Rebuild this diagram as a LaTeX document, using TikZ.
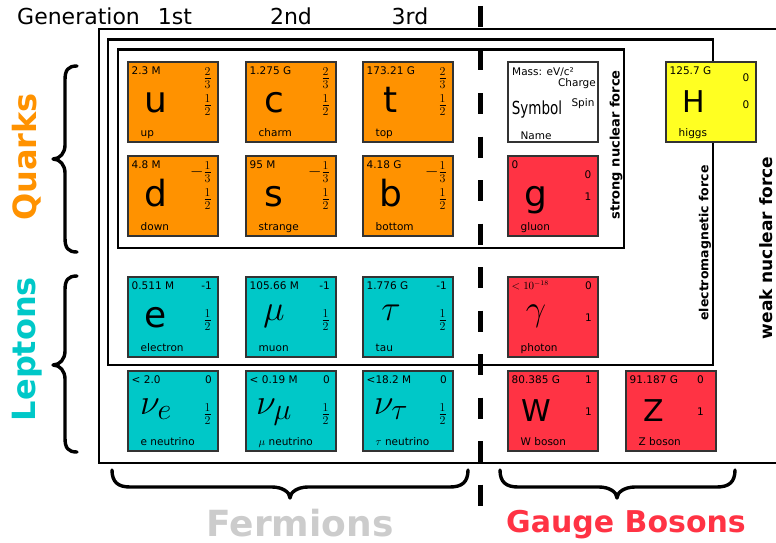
\documentclass[tikz,border=0pt]{standalone}
\usepackage[no-math]{fontspec}
\setmainfont{DejaVu Sans}
\usepackage{graphicx}
\definecolor{quark}{HTML}{FF9200}
\definecolor{lepton}{HTML}{00C8C8}
\definecolor{boson}{HTML}{FF3344}
\definecolor{higgscol}{HTML}{FFFF22}
\definecolor{fermcol}{HTML}{CCCCCC}
\tikzset{
  frame/.style={line width=2.6pt, draw=black},
  cellbox/.style={draw=black!80, line width=1.2pt, minimum width=90pt, minimum height=80pt, anchor=north west, inner sep=0pt, outer sep=0pt},
  smalltext/.style={font=\fontsize{10.5}{12}\selectfont, inner sep=0pt},
  masst/.style={smalltext, anchor=base west},
  namet/.style={smalltext, anchor=base west},
  charget/.style={smalltext, anchor=base east},
  spint/.style={smalltext, anchor=base east},
  symt/.style={inner sep=0pt, anchor=base},
  bracestyle/.style={line width=3.4pt, line cap=round, line join=round},
  rotlabel/.style={rotate=90, inner sep=0pt},
  dashdiv/.style={line width=5pt, dash pattern=on 21pt off 22.5pt},
}
\newcommand\symlc[1]{{\fontsize{36}{40}\selectfont #1}}
\newcommand\symuc[1]{{\fontsize{30}{36}\selectfont #1}}
\newcommand\symgk[1]{\raisebox{7pt}{\scalebox{1.45}{\fontsize{24.88}{28}\selectfont$#1$}}}
% charge fractions (centre about 16 below the cell top)
\newcommand\chq[2]{\raisebox{-7.6pt}{\fontsize{16.5}{18}\selectfont$\frac{#1}{#2}$}}
\newcommand\chqn[2]{\raisebox{-7.6pt}{\fontsize{16.5}{18}\selectfont$-\frac{#1}{#2}$}}
% spin fractions
\newcommand\spq[2]{\raisebox{-3pt}{\fontsize{16.5}{18}\selectfont$\frac{#1}{#2}$}}
\newcommand\particle[9][84]{%
  \node[cellbox, fill=#4] (#2) at (#3) {};
  \node[masst] (#2-mass) at ([shift={(3.5,12.5)}]#2.north west) {#5};
  \node[symt] (#2-sym) at ([shift={(28,50)}]#2.north west) {#6};
  \node[charget] (#2-charge) at ([shift={(#1,12.7)}]#2.north west) {#7};
  \node[spint] (#2-spin) at ([shift={(#1,44.5)}]#2.north west) {#8};
  \node[namet] (#2-name) at ([shift={(12.5,74)}]#2.north west) {#9};
}
\begin{document}
\begin{tikzpicture}[x=1pt,y=-1pt]
\useasboundingbox (0,0) rectangle (776,543);
% force frames
\draw[frame] (800,29) -- (99,29) -- (99,463) -- (800,463);
\draw[frame] (108,39.5) rectangle (713,365);
\draw[frame] (118,49.5) rectangle (624,248);
% header
\node[anchor=base west, inner sep=0pt, font=\fontsize{22}{26}\selectfont] (gen) at (17,25) {Generation};
\node[anchor=base, inner sep=0pt, font=\fontsize{22}{26}\selectfont] (g1) at (175,25) {1st};
\node[anchor=base, inner sep=0pt, font=\fontsize{22}{26}\selectfont] (g2) at (291,25) {2nd};
\node[anchor=base, inner sep=0pt, font=\fontsize{22}{26}\selectfont] (g3) at (410,25) {3rd};
% quarks
\particle{u}{128,62}{quark}{2.3 M}{\symlc{u}}{\chq23}{\spq12}{up}
\particle{c}{246,62}{quark}{1.275 G}{\symlc{c}}{\chq23}{\spq12}{charm}
\particle{t}{363,62}{quark}{173.21 G}{\symlc{t}}{\chq23}{\spq12}{top}
\particle{d}{128,156}{quark}{4.8 M}{\symlc{d}}{\chqn13}{\spq12}{down}
\particle{s}{246,156}{quark}{95 M}{\symlc{s}}{\chqn13}{\spq12}{strange}
\particle{b}{363,156}{quark}{4.18 G}{\symlc{b}}{\chqn13}{\spq12}{bottom}
% leptons
\particle{e}{128,277}{lepton}{0.511 M}{\symlc{e}}{-1}{\spq12}{electron}
\particle{mu}{246,277}{lepton}{105.66 M}{\symgk{\mu}}{-1}{\spq12}{muon}
\particle{tau}{363,277}{lepton}{1.776 G}{\symgk{\tau}}{-1}{\spq12}{tau}
\particle{nue}{128,371}{lepton}{< 2.0}{\symgk{\nu_e}}{0}{\spq12}{e neutrino}
\particle{numu}{246,371}{lepton}{< 0.19 M}{\symgk{\nu_\mu}}{0}{\spq12}{$\mu$ neutrino}
\particle{nutau}{363,371}{lepton}{<18.2 M}{\symgk{\nu_\tau}}{0}{\spq12}{$\tau$ neutrino}
% bosons
\particle{g}{508,156}{boson}{0}{\symlc{g}}{}{}{gluon}
\node[smalltext] (g-q) at ([shift={(80,19)}]g.north west) {0};
\node[smalltext] (g-sp) at ([shift={(80,41)}]g.north west) {1};
\particle{gamma}{508,277}{boson}{$<10^{-18}$}{\symgk{\gamma}}{0}{1}{photon}
\particle{W}{508,371}{boson}{80.385 G}{\symuc{W}}{1}{1}{W boson}
\particle[78]{Z}{626,371}{boson}{91.187 G}{\symuc{Z}}{0}{1}{Z boson}
\particle{H}{666,62}{higgscol}{125.7 G}{\symuc{H}}{}{}{higgs}
\node[smalltext] (H-q) at ([shift={(80,16)}]H.north west) {0};
\node[smalltext] (H-sp) at ([shift={(80,43)}]H.north west) {0};
% key
\node[cellbox, fill=white] (key) at (508,62) {};
\node[masst] (key-mass) at (512,75) {Mass: eV/c²};
\node[smalltext, anchor=base east] (key-charge) at (596,86) {Charge};
\node[anchor=base, inner sep=0pt, font=\fontsize{18}{20}\selectfont] (key-sym) at (537,114) {\scalebox{0.75}[1]{Symbol}};
\node[smalltext, anchor=base] (key-spin) at (583,106) {Spin};
\node[smalltext, anchor=base] (key-name) at (536,139) {Name};
% force labels
\node[rotlabel, font=\bfseries\fontsize{13}{15}\selectfont] (strong) at (616,145) {strong nuclear force};
\node[rotlabel, font=\bfseries\fontsize{12.5}{15}\selectfont] (em) at (705,243) {electromagnetic force};
\node[rotlabel, anchor=base, font=\bfseries\fontsize{17}{20}\selectfont] (weak) at (772,248) {weak nuclear force};
% divider
\draw[dashdiv] (480,6) -- (480,506);
% side labels
\node[rotlabel, anchor=base, font=\bfseries\fontsize{32}{36}\selectfont, text=quark] (quarks) at (36,157) {Quarks};
\node[rotlabel, anchor=base, font=\bfseries\fontsize{32}{36}\selectfont, text=lepton] (leptons) at (35,349) {Leptons};
% braces
\draw[bracestyle] (77,66) .. controls (68,66) and (65,70) .. (65,80) -- (65,145) .. controls (65,153) and (60,159) .. (53,159) .. controls (60,159) and (65,165) .. (65,173) -- (65,238) .. controls (65,248) and (68,252) .. (77,252);
\draw[bracestyle] (77,276) .. controls (68,276) and (65,280) .. (65,290) -- (65,351) .. controls (65,359) and (60,365) .. (53,365) .. controls (60,365) and (65,371) .. (65,379) -- (65,438) .. controls (65,448) and (68,452) .. (77,452);
\draw[bracestyle] (112,470) .. controls (112,482) and (118,487) .. (130,487) -- (272,487) .. controls (282,487) and (290,492) .. (290,498) .. controls (290,492) and (298,487) .. (308,487) -- (450,487) .. controls (462,487) and (468,482) .. (468,470);
\draw[bracestyle] (500,470) .. controls (500,482) and (506,487) .. (518,487) -- (599,487) .. controls (609,487) and (617,492) .. (617,498) .. controls (617,492) and (625,487) .. (635,487) -- (717,487) .. controls (729,487) and (735,482) .. (735,470);
% bottom labels
\node[anchor=base, inner sep=0pt, font=\bfseries\fontsize{36}{40}\selectfont, text=fermcol] (fermions) at (300,536) {Fermions};
\node[anchor=base, inner sep=0pt, font=\bfseries\fontsize{30}{36}\selectfont, text=boson] (gauge) at (626,532) {Gauge Bosons};
\end{tikzpicture}
\end{document}
